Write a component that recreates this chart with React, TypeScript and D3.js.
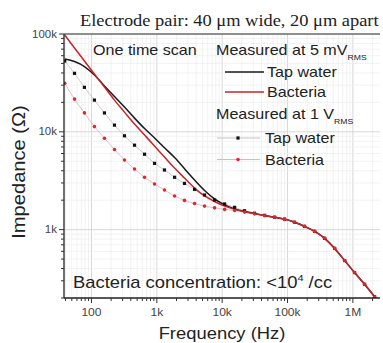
import * as d3 from "d3";
import { useRef, useEffect } from "react";

// frequency points (Hz)
const freqHz = [39, 55, 78, 111, 158, 225, 320, 456, 649, 923, 1310, 1870, 2650, 3780, 5370, 7650,
  10900, 15500, 22000, 31300, 44600, 63400, 90200, 128000, 182000, 260000, 370000, 526000,
  748000, 1060000, 1510000, 2150000];

// impedance (ohm)
const tap5mV = [55500, 52300, 46500, 38100, 29400, 23000, 17900, 13800, 10800, 8660, 6870, 5460,
  4200, 3210, 2510, 2060, 1790, 1630, 1530, 1460, 1390, 1340, 1280, 1190, 1080, 960, 815, 643,
  483, 364, 276, 206];
const bact5mV = [97700, 71900, 53000, 39000, 28700, 21100, 15900, 12000, 9270, 7160, 5520, 4260,
  3370, 2660, 2210, 1940, 1740, 1610, 1520, 1460, 1390, 1340, 1280, 1190, 1080, 960, 815, 643,
  483, 364, 276, 206];
const tap1V = [53000, 39600, 28500, 21100, 15600, 11700, 9100, 7300, 5900, 4760, 4070, 3430,
  2970, 2580, 2260, 2010, 1830, 1690, 1560, 1470, 1400, 1340, 1280, 1190, 1080, 960, 815, 643,
  483, 364, 276, 206];
const bact1V = [31300, 21600, 15600, 11300, 8600, 6600, 5150, 4170, 3430, 2930, 2540, 2210,
  1990, 1850, 1740, 1670, 1610, 1570, 1510, 1450, 1390, 1340, 1280, 1190, 1080, 960, 815, 643,
  483, 364, 276, 206];

const xTicks = [100, 1000, 10000, 100000, 1000000];
const xTickLabels = ["100", "1k", "10k", "100k", "1M"];
const yTicks = [1000, 10000, 100000];
const yTickLabels = ["1k", "10k", "100k"];

const SX = 1.15; // text in the reference is stretched horizontally
const sans = "Arial, 'Liberation Sans', sans-serif";

export default function App() {
  const svgRef = useRef(null);

  useEffect(() => {
    const svg = d3.select(svgRef.current);
    svg.selectAll("*").remove();

    const left = 64, right = 380, top = 34, bottom = 298;
    const x = d3.scaleLog().domain([38, 2.6e6]).range([left, right]);
    const y = d3.scaleLog().domain([200, 100000]).range([bottom, top]);

    const txt = (px, py, size, anchor = "start", family = sans, rot = 0) =>
      svg.append("text")
        .attr("transform", `translate(${px},${py}) rotate(${rot}) scale(${SX},1)`)
        .attr("text-anchor", anchor)
        .attr("font-family", family)
        .attr("font-size", size)
        .attr("fill", "#222");

    const isMajor = (v) => Math.abs(Math.log10(v) - Math.round(Math.log10(v))) < 1e-6;
    const xAll = x.ticks();
    const yAll = y.ticks();

    // grid
    svg.append("g").selectAll("line").data(xAll).join("line")
      .attr("x1", (d) => x(d)).attr("x2", (d) => x(d))
      .attr("y1", top).attr("y2", bottom)
      .attr("stroke", (d) => isMajor(d) ? "#d4d4d4" : "#ececec")
      .attr("stroke-width", (d) => isMajor(d) ? 0.9 : 0.7);
    svg.append("g").selectAll("line").data(yAll).join("line")
      .attr("y1", (d) => y(d)).attr("y2", (d) => y(d))
      .attr("x1", left).attr("x2", right)
      .attr("stroke", (d) => isMajor(d) ? "#d4d4d4" : "#ececec")
      .attr("stroke-width", (d) => isMajor(d) ? 0.9 : 0.7);

    // clip
    svg.append("clipPath").attr("id", "plotclip").append("rect")
      .attr("x", left).attr("y", top).attr("width", right - left).attr("height", bottom - top);
    const plot = svg.append("g").attr("clip-path", "url(#plotclip)");

    const line = d3.line()
      .x((d) => x(d[0]))
      .y((d) => y(d[1]))
      .curve(d3.curveMonotoneX);

    const pts = (vals) => freqHz.map((f, i) => [f, vals[i]]);

    // 1 V series: thin gray connecting lines
    plot.append("path").attr("d", line(pts(tap1V)))
      .attr("fill", "none").attr("stroke", "#c4c4c4").attr("stroke-width", 0.9);
    plot.append("path").attr("d", line(pts(bact1V)))
      .attr("fill", "none").attr("stroke", "#d2bcbc").attr("stroke-width", 0.9);

    // 5 mV series
    plot.append("path").attr("d", line(pts(tap5mV)))
      .attr("fill", "none").attr("stroke", "#1a1a1a").attr("stroke-width", 1.5);
    plot.append("path").attr("d", line(pts(bact5mV)))
      .attr("fill", "none").attr("stroke", "#c4262c").attr("stroke-width", 1.5);

    // markers
    plot.append("g").selectAll("rect").data(pts(tap1V)).join("rect")
      .attr("x", (d) => x(d[0]) - 1.6).attr("y", (d) => y(d[1]) - 1.6)
      .attr("width", 3.2).attr("height", 3.2).attr("fill", "#111");
    plot.append("g").selectAll("circle").data(pts(bact1V)).join("circle")
      .attr("cx", (d) => x(d[0])).attr("cy", (d) => y(d[1]))
      .attr("r", 1.8).attr("fill", "#e2262b");

    // frame
    svg.append("line").attr("x1", left).attr("x2", right).attr("y1", top).attr("y2", top)
      .attr("stroke", "#333").attr("stroke-width", 1);
    svg.append("line").attr("x1", left).attr("x2", left).attr("y1", top).attr("y2", bottom)
      .attr("stroke", "#222").attr("stroke-width", 1.3);
    svg.append("line").attr("x1", left).attr("x2", right).attr("y1", bottom).attr("y2", bottom)
      .attr("stroke", "#222").attr("stroke-width", 1.3);

    // ticks
    svg.append("g").selectAll("line").data(xAll).join("line")
      .attr("x1", (d) => x(d)).attr("x2", (d) => x(d))
      .attr("y1", bottom).attr("y2", (d) => bottom + (isMajor(d) ? 5 : 3))
      .attr("stroke", "#333").attr("stroke-width", 1);
    svg.append("g").selectAll("line").data(yAll).join("line")
      .attr("y1", (d) => y(d)).attr("y2", (d) => y(d))
      .attr("x1", left).attr("x2", (d) => left - (isMajor(d) ? 5 : 3))
      .attr("stroke", "#333").attr("stroke-width", 1);

    xTicks.forEach((t, i) => {
      txt(x(t), bottom + 18, 10.5, "middle").attr("fill", "#444").text(xTickLabels[i]);
    });
    yTicks.forEach((t, i) => {
      txt(left - 7, y(t) + 3.5, 10, "end").attr("fill", "#444").text(yTickLabels[i]);
    });

    // axis titles
    txt(222, 339, 16, "middle").text("Frequency (Hz)");
    txt(25, 172, 17.5, "middle", sans, -90).text("Impedance (\u03A9)");

    // title
    txt(80, 26, 16, "start", "'Times New Roman', 'Liberation Serif', serif")
      .text("Electrode pair: 40 \u03BCm wide, 20 \u03BCm apart");

    // annotations
    txt(93, 55, 14).text("One time scan");

    const m1 = txt(216, 55, 14);
    m1.append("tspan").text("Measured at 5 mV");
    m1.append("tspan").attr("dy", 5).attr("font-size", 7.5).text("RMS");

    const m2 = txt(216, 119, 14);
    m2.append("tspan").text("Measured at 1 V");
    m2.append("tspan").attr("dy", 5).attr("font-size", 7.5).text("RMS");

    const c = txt(73, 288, 16);
    c.append("tspan").text("Bacteria concentration: <10");
    c.append("tspan").attr("dy", -7).attr("font-size", 9.5).text("4");
    c.append("tspan").attr("dy", 7).text(" /cc");

    // legend
    svg.append("line").attr("x1", 225).attr("x2", 264).attr("y1", 72).attr("y2", 72)
      .attr("stroke", "#1a1a1a").attr("stroke-width", 1.5);
    txt(267, 77, 14).text("Tap water");
    svg.append("line").attr("x1", 225).attr("x2", 264).attr("y1", 92).attr("y2", 92)
      .attr("stroke", "#c4262c").attr("stroke-width", 1.5);
    txt(267, 97, 14).text("Bacteria");

    svg.append("line").attr("x1", 217).attr("x2", 260).attr("y1", 138).attr("y2", 138)
      .attr("stroke", "#c4c4c4").attr("stroke-width", 1);
    svg.append("rect").attr("x", 236.4).attr("y", 136.4).attr("width", 3.2).attr("height", 3.2)
      .attr("fill", "#111");
    txt(265, 143, 14).text("Tap water");
    svg.append("line").attr("x1", 217).attr("x2", 260).attr("y1", 159.5).attr("y2", 159.5)
      .attr("stroke", "#d2bcbc").attr("stroke-width", 1);
    svg.append("circle").attr("cx", 238).attr("cy", 159.5).attr("r", 1.8).attr("fill", "#e2262b");
    txt(265, 165, 14).text("Bacteria");
  }, []);

  return (
    <svg ref={svgRef} width={383} height={343}
      style={{ position: "absolute", left: 0, top: 0, background: "#fff" }} />
  );
}
